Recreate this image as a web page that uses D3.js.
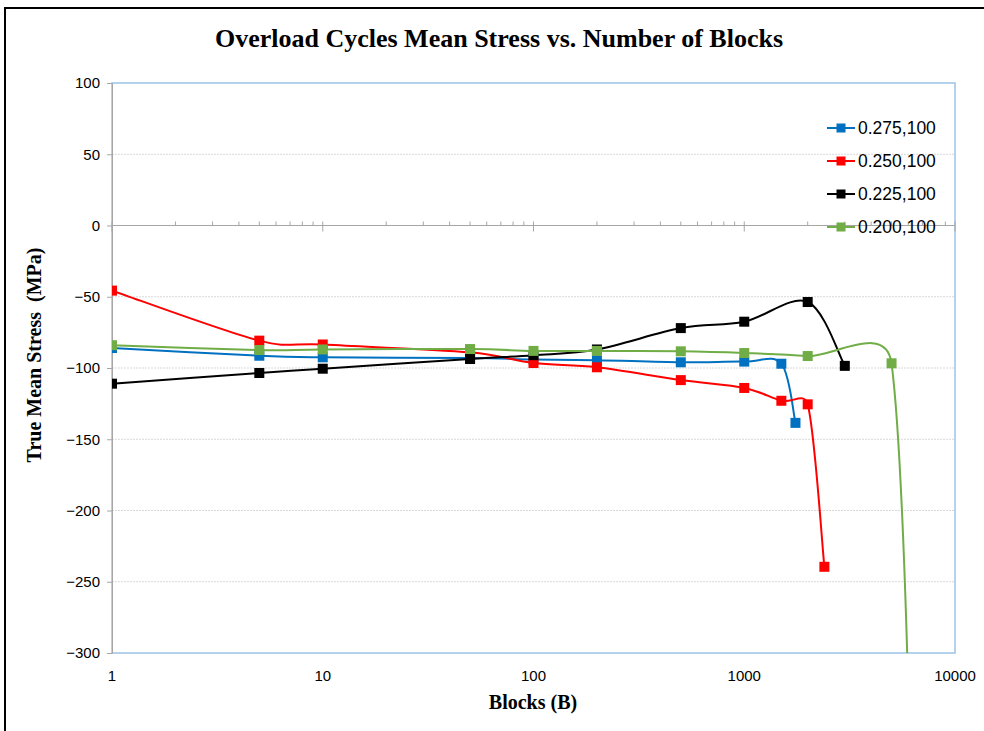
<!DOCTYPE html>
<html>
<head>
<meta charset="utf-8">
<script src="https://cdn.jsdelivr.net/npm/d3@7"></script>
<style>
body{margin:0;background:#fff}
svg{display:block}
</style>
</head>
<body>
<div id="app"></div>
<script>
// series (blocks, true mean stress in MPa)
const seriesNames = ['0.275,100', '0.250,100', '0.225,100', '0.200,100']
const blocks275 = [1, 5, 10, 50, 100, 200, 500, 1000, 1500, 1750]
const stress275 = [-86, -91.4, -92.5, -93, -94, -94.5, -96, -95.5, -97, -138.5]
const blocks250 = [1, 5, 10, 50, 100, 200, 500, 1000, 1500, 2000, 2400]
const stress250 = [-45.7, -80.8, -83.5, -89, -96.5, -99.5, -108.5, -114, -123, -125.5, -239.5]
const blocks225 = [1, 5, 10, 50, 100, 200, 500, 1000, 2000, 3000]
const stress225 = [-111, -103.5, -100.5, -93.7, -91, -87, -72, -67.5, -53.7, -98.5]
const blocks200 = [1, 5, 10, 50, 100, 200, 500, 1000, 2000, 5000, 6800]
const stress200 = [-84, -87.4, -87, -86.7, -88, -88, -88.3, -89.5, -91.6, -96.7, -700]
const yTicks = [100, 50, 0, -50, -100, -150, -200, -250, -300]
const xTicks = [1, 10, 100, 1000, 10000]
const colors = ['#0070C0', '#FF0000', '#000000', '#70AD47']

const series = [
  {name: seriesNames[0], x: blocks275, y: stress275, color: colors[0]},
  {name: seriesNames[1], x: blocks250, y: stress250, color: colors[1]},
  {name: seriesNames[2], x: blocks225, y: stress225, color: colors[2]},
  {name: seriesNames[3], x: blocks200, y: stress200, color: colors[3]}
]

const W = 984, H = 731
const plot = {left: 112, right: 955, top: 83, bottom: 653}

const svg = d3.select('#app').append('svg').attr('width', W).attr('height', H)
svg.append('rect').attr('width', W).attr('height', H).attr('fill', '#fff')

// outer frame
svg.append('rect').attr('x', 5).attr('y', 8).attr('width', 1000).attr('height', 800)
  .attr('fill', 'none').attr('stroke', '#000').attr('stroke-width', 2)

const x = d3.scaleLog().domain([1, 10000]).range([plot.left, plot.right])
const y = d3.scaleLinear().domain([-300, 100]).range([plot.bottom, plot.top])

// gridlines
svg.append('g').selectAll('line').data(yTicks.filter(d => d !== 0 && d !== 100 && d !== -300))
  .enter().append('line')
  .attr('x1', plot.left).attr('x2', plot.right)
  .attr('y1', d => y(d)).attr('y2', d => y(d))
  .attr('stroke', '#d9d9d9').attr('stroke-width', 1).attr('stroke-dasharray', '2,1')

// plot area border (light blue)
svg.append('rect').attr('x', plot.left).attr('y', plot.top)
  .attr('width', plot.right - plot.left).attr('height', plot.bottom - plot.top)
  .attr('fill', 'none').attr('stroke', '#9dc3e6').attr('stroke-width', 1.5)

// y axis
const yAxis = d3.axisLeft(y).tickValues(yTicks).tickSize(5).tickPadding(7)
const gy = svg.append('g').attr('transform', `translate(${plot.left},0)`).call(yAxis)
gy.select('.domain').attr('stroke', '#a6a6a6')
gy.selectAll('.tick line').attr('stroke', '#a6a6a6')
gy.selectAll('text').attr('font-family', 'Liberation Sans, Arial, sans-serif')
  .attr('font-size', 15).attr('fill', '#000')

// x axis line at y = 0
const y0 = y(0)
svg.append('line').attr('x1', plot.left).attr('x2', plot.right)
  .attr('y1', y0).attr('y2', y0).attr('stroke', '#a6a6a6').attr('stroke-width', 1)
const minor = []
for (let dec = 1; dec < 10000; dec *= 10) for (let k = 2; k <= 9; k++) minor.push(dec * k)
svg.append('g').selectAll('line').data(minor).enter().append('line')
  .attr('x1', d => x(d)).attr('x2', d => x(d))
  .attr('y1', y0 - 4).attr('y2', y0)
  .attr('stroke', '#a6a6a6')
svg.append('g').selectAll('line').data(xTicks).enter().append('line')
  .attr('x1', d => x(d)).attr('x2', d => x(d))
  .attr('y1', y0 - 4).attr('y2', y0 + 6)
  .attr('stroke', '#a6a6a6')

// x tick labels at the bottom
svg.append('g').selectAll('text').data(xTicks).enter().append('text')
  .attr('x', d => x(d)).attr('y', plot.bottom + 28)
  .attr('text-anchor', 'middle')
  .attr('font-family', 'Liberation Sans, Arial, sans-serif').attr('font-size', 15)
  .text(d => d)

// Excel-like smoothed line
function smoothPath(pts) {
  const p = d3.path()
  p.moveTo(pts[0][0], pts[0][1])
  for (let i = 0; i < pts.length - 1; i++) {
    const p0 = pts[Math.max(i - 1, 0)], p1 = pts[i], p2 = pts[i + 1], p3 = pts[Math.min(i + 2, pts.length - 1)]
    const d12 = Math.hypot(p2[0] - p1[0], p2[1] - p1[1])
    const a = [p2[0] - p0[0], p2[1] - p0[1]], la = Math.hypot(a[0], a[1])
    const b = [p3[0] - p1[0], p3[1] - p1[1]], lb = Math.hypot(b[0], b[1])
    let f1 = 1 / 6, f2 = 1 / 6
    if (la * f1 > d12 / 2) f1 = d12 / (2 * la)
    if (lb * f2 > d12 / 2) f2 = d12 / (2 * lb)
    p.bezierCurveTo(p1[0] + a[0] * f1, p1[1] + a[1] * f1,
      p2[0] - b[0] * f2, p2[1] - b[1] * f2, p2[0], p2[1])
  }
  return p.toString()
}

svg.append('clipPath').attr('id', 'clip').append('rect')
  .attr('x', plot.left).attr('y', plot.top)
  .attr('width', plot.right - plot.left).attr('height', plot.bottom - plot.top)

const gs = svg.append('g').attr('clip-path', 'url(#clip)')
series.forEach(s => {
  const pts = s.x.map((v, i) => [x(v), y(s.y[i])])
  const g = gs.append('g')
  g.append('path').attr('d', smoothPath(pts))
    .attr('fill', 'none').attr('stroke', s.color).attr('stroke-width', 2)
  g.selectAll('rect').data(pts).enter().append('rect')
    .attr('x', d => d[0] - 5).attr('y', d => d[1] - 5)
    .attr('width', 10).attr('height', 10).attr('fill', s.color)
})

// legend
const lg = svg.append('g')
series.forEach((s, i) => {
  const ly = 128 + i * 33
  lg.append('line').attr('x1', 827).attr('x2', 855).attr('y1', ly).attr('y2', ly)
    .attr('stroke', s.color).attr('stroke-width', 2)
  lg.append('rect').attr('x', 841 - 4.5).attr('y', ly - 4.5).attr('width', 9).attr('height', 9)
    .attr('fill', s.color)
  lg.append('text').attr('x', 858).attr('y', ly).attr('dy', '0.35em')
    .attr('font-family', 'Liberation Sans, Arial, sans-serif').attr('font-size', 17.5)
    .text(s.name)
})

// titles
svg.append('text').attr('x', 499).attr('y', 47).attr('text-anchor', 'middle')
  .attr('font-family', 'Liberation Serif, Times New Roman, serif').attr('font-weight', 'bold')
  .attr('font-size', 26).text('Overload Cycles Mean Stress vs. Number of Blocks')
svg.append('text').attr('x', 533).attr('y', 709).attr('text-anchor', 'middle')
  .attr('font-family', 'Liberation Serif, Times New Roman, serif').attr('font-weight', 'bold')
  .attr('font-size', 20).text('Blocks (B)')
svg.append('text').attr('transform', 'translate(41,355) rotate(-90)').attr('text-anchor', 'middle')
  .attr('font-family', 'Liberation Serif, Times New Roman, serif').attr('font-weight', 'bold')
  .attr('font-size', 20).style('white-space', 'pre').text('True Mean Stress  (MPa)')
</script>
</body>
</html>
